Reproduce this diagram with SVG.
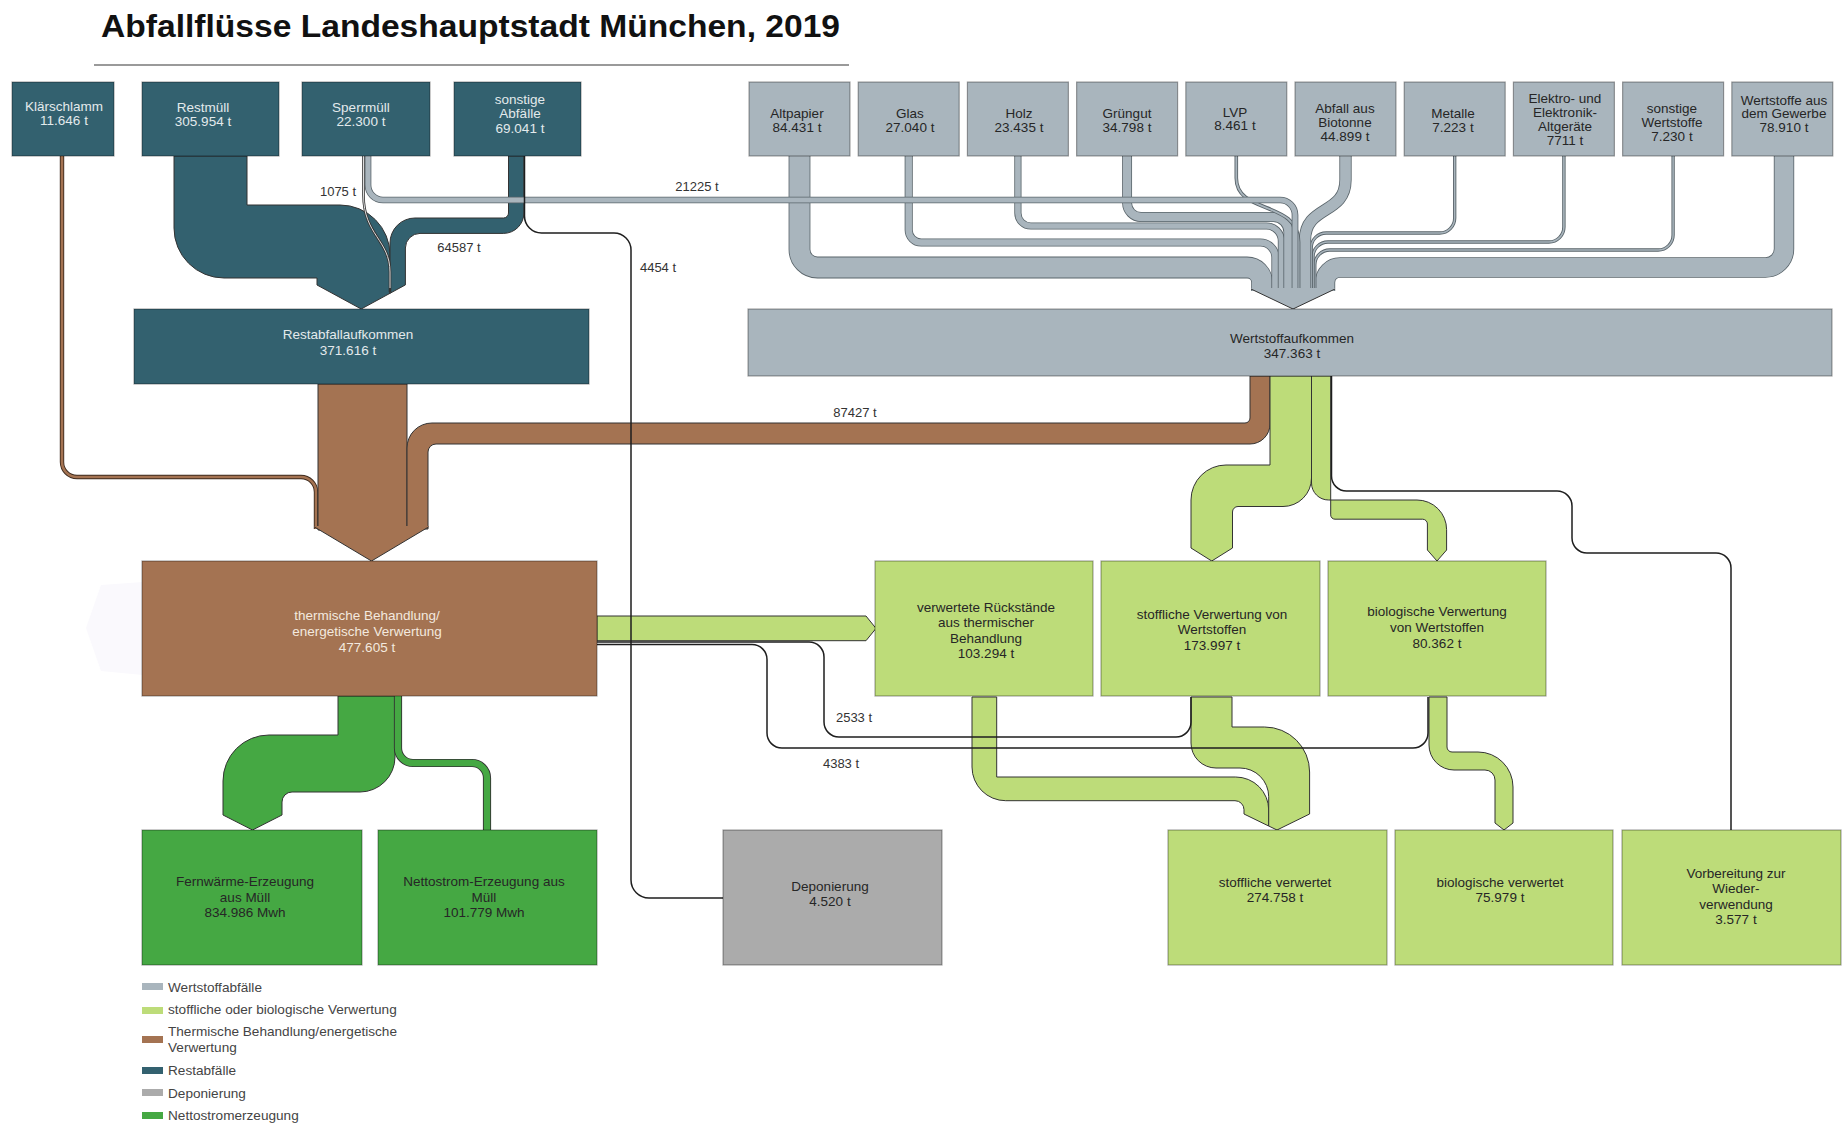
<svg xmlns="http://www.w3.org/2000/svg" width="1843" height="1124" viewBox="0 0 1843 1124">
<style>
.t{font-family:"Liberation Sans",Arial,sans-serif;font-size:13.5px;text-anchor:middle}
.tl{fill:#e3eaec}
.tb{fill:#f3e9df}
.td{fill:#262626}
.lab{font-family:"Liberation Sans",Arial,sans-serif;font-size:13px;fill:#333;text-anchor:middle}
.leg{font-family:"Liberation Sans",Arial,sans-serif;font-size:13.6px;fill:#444}
.bx{stroke:#000;stroke-opacity:.35;stroke-width:1.2}
.teal{fill:#33616f}.gray{fill:#a9b5bd}.brown{fill:#a47352}.lg{fill:#bddc79}.dg{fill:#45a843}.dep{fill:#ababab}
.fo{stroke:#333;stroke-width:1;stroke-linejoin:round}
.go{fill:none;stroke:#59646a}
.gf{fill:none;stroke:#a9b5bd}
.ln{fill:none;stroke:#1e1e1e;stroke-width:1.5}
.edge{fill:none;stroke:#333;stroke-width:1}
</style>
<defs>
<path id="p-sperr" d="M368,156 V185 A15 15 0 0 0 383,200 H1280 A15 15 0 0 1 1295,215 V291"/>
<path id="p-alt" d="M799.5,156 V249.5 A18 18 0 0 0 817.5,267.5 H1247.1 A15 15 0 0 1 1262.1,282.5 V291"/>
<path id="p-glas" d="M908.7,156 V230 A12.5 12.5 0 0 0 921.2,242.5 H1260.4 A15 15 0 0 1 1275.4,257.5 V291"/>
<path id="p-holz" d="M1017.9,156 V213 A13 13 0 0 0 1030.9,226 H1266.4 A15 15 0 0 1 1281.4,241 V291"/>
<path id="p-gruen" d="M1127.1,156 V203 A14 14 0 0 0 1141.1,217 H1273.35 A15 15 0 0 1 1288.35,232 V291"/>
<path id="p-lvp" d="M1236.3,156 V178 C1236.3,215 1298.6,200 1298.6,242 V291"/>
<path id="p-bio" d="M1345.5,156 V180 C1345.5,215 1305,205 1305,240 V291"/>
<path id="p-met" d="M1454.7,156 V218 A15 15 0 0 1 1439.7,233 H1326.2 A15 15 0 0 0 1311.2,248 V291"/>
<path id="p-elek" d="M1563.9,156 V227 A15 15 0 0 1 1548.9,242 H1328 A15 15 0 0 0 1313,257 V291"/>
<path id="p-sw" d="M1673.1,156 V235 A15 15 0 0 1 1658.1,250 H1329.8 A15 15 0 0 0 1314.8,265 V291"/>
<path id="p-gew" d="M1784,156 V249 A18.5 18.5 0 0 1 1765.5,267.5 H1340 A15 15 0 0 0 1325,282.5 V291"/>
</defs>
<rect width="1843" height="1124" fill="#fff"/>

<g id="title">
<text x="101" y="37" textLength="739" lengthAdjust="spacingAndGlyphs" style="font-family:'Liberation Sans',Arial,sans-serif;font-size:32px;font-weight:bold;fill:#111">Abfallflüsse Landeshauptstadt München, 2019</text>
<line x1="94" y1="65" x2="849" y2="65" stroke="#9a9a9a" stroke-width="2"/>
</g>

<polygon points="143,582 101,585 86,628 101,671 143,675" fill="#faf9fd"/>

<g id="connectors">
<!-- Restabfall inflows -->
<path class="teal fo" d="M174,156 V228 A50 50 0 0 0 224,278 H317 V285 L361.2,309 L390,293.3 V255 A50 50 0 0 0 340,205 H247 V156 Z"/>
<path class="teal fo" d="M508.5,156 V213 A5 5 0 0 1 503.5,218 H415 A25 25 0 0 0 390,243 V293.3 L405.4,284.9 V248 A14.6 14.6 0 0 1 420,233.4 H503.5 A20.4 20.4 0 0 0 523.9,213 V156 Z"/>
<path d="M363.5,156 V195 C363.5,235 390,240 390,272 V292" fill="none" stroke="#333" stroke-width="2.6"/>
<path d="M363.5,156 V195 C363.5,235 390,240 390,272 V288" fill="none" stroke="#f2f2f2" stroke-width="0.9"/>

<!-- Wertstoff inflows -->
<use href="#p-alt" class="go" stroke-width="21.8"/><use href="#p-alt" class="gf" stroke-width="20.2"/>
<use href="#p-glas" class="go" stroke-width="8.1"/><use href="#p-glas" class="gf" stroke-width="6.5"/>
<use href="#p-holz" class="go" stroke-width="7.2"/><use href="#p-holz" class="gf" stroke-width="5.6"/>
<use href="#p-gruen" class="go" stroke-width="9.9"/><use href="#p-gruen" class="gf" stroke-width="8.3"/>
<use href="#p-gew" class="go" stroke-width="20.4"/><use href="#p-gew" class="gf" stroke-width="18.8"/>
<use href="#p-sw" class="go" stroke-width="3.3"/><use href="#p-sw" class="gf" stroke-width="1.5"/>
<use href="#p-elek" class="go" stroke-width="3.4"/><use href="#p-elek" class="gf" stroke-width="1.6"/>
<use href="#p-met" class="go" stroke-width="3.3"/><use href="#p-met" class="gf" stroke-width="1.5"/>
<use href="#p-bio" class="go" stroke-width="12.3"/><use href="#p-bio" class="gf" stroke-width="10.7"/>
<use href="#p-lvp" class="go" stroke-width="3.6"/><use href="#p-lvp" class="gf" stroke-width="1.8"/>
<use href="#p-sperr" class="go" stroke-width="6.7"/><use href="#p-sperr" class="gf" stroke-width="5.1"/>
<path class="gray" d="M1251,288 H1335 V289 L1293,309 L1251,289 Z"/>
<polyline class="edge" points="1251,289 1293,309 1335,289"/>

<!-- thermal inflows -->
<path d="M62,156 V462 A15 15 0 0 0 77,477 H301 A15 15 0 0 1 316,492 V529" fill="none" stroke="#3e2b1f" stroke-width="4.4"/>
<path d="M62,156 V462 A15 15 0 0 0 77,477 H301 A15 15 0 0 1 316,492 V529" fill="none" stroke="#a47352" stroke-width="2.6"/>
<rect class="brown fo" x="318" y="384" width="89" height="146"/>
<path class="brown fo" d="M1250,376 V418 A5 5 0 0 1 1245,423 H432 A25 25 0 0 0 407,448 V529 H428 V452 A8 8 0 0 1 436,444 H1250 A20 20 0 0 0 1270,424 V376 Z"/>
<path class="brown" d="M314.5,526 H428.5 V527 L371.5,561 L314.5,527 Z"/>
<polyline class="edge" points="314.5,527 371.5,561 428.5,527"/>

<!-- green flows from Wertstoffaufkommen -->
<path class="lg fo" d="M1270,376 V465 H1226 A35 35 0 0 0 1191,500 V548 L1211.75,561 L1232.5,548 V512 A5.5 5.5 0 0 1 1238,506.5 H1283 A28.5 28.5 0 0 0 1311.5,478 V376 Z"/>
<path class="lg fo" d="M1311.5,376 V483 A17 17 0 0 0 1328.5,500 H1417 A29.6 29.6 0 0 1 1446.6,529.6 V550 L1437,561 L1427.4,550 V524 A4.8 4.8 0 0 0 1422.6,519.2 H1335 A4.3 4.3 0 0 1 1330.7,514.9 V376 Z"/>

<!-- thermal to residues -->
<path class="lg fo" d="M597,616 H866 L876,628.4 L866,640.7 H597 Z"/>

<!-- green outflows -->
<path class="lg fo" d="M972,697 V767 A33.7 33.7 0 0 0 1005.7,800.7 H1235 A9 9 0 0 1 1244,809.7 V814 L1268.7,826 V810 A33 33 0 0 0 1235.7,777 H996.7 V697 Z"/>
<path class="lg fo" d="M1191,697 V743 A25 25 0 0 0 1216,768 H1240 A28.7 28.7 0 0 1 1268.7,796.7 V826 L1277,830 L1309.6,814 V772 A45 45 0 0 0 1264.6,727 H1232 V697 Z"/>
<path class="lg fo" d="M1429,697 V745 A25 25 0 0 0 1454,770 H1485 A10 10 0 0 1 1495,780 V823 L1504,830 L1513,823 V787 A35 35 0 0 0 1478,752 H1452 A5 5 0 0 1 1447,747 V697 Z"/>

<!-- energy outflows -->
<path class="dg fo" d="M338,696 V735 H269 A46 46 0 0 0 223,781 V815 L252.5,830 L282,815 V802 A10 10 0 0 1 292,792 H360 A35 35 0 0 0 395,757 V696 Z"/>
<path d="M398,696 V748 A15 15 0 0 0 413,763 H472 A15 15 0 0 1 487,778 V830" fill="none" stroke="#333" stroke-width="8.2"/>
<path d="M398,696 V748 A15 15 0 0 0 413,763 H472 A15 15 0 0 1 487,778 V830" fill="none" stroke="#45a843" stroke-width="6.4"/>

<!-- thin lines -->
<path class="ln" d="M597,642 H809 A15 15 0 0 1 824,657 V722 A15 15 0 0 0 839,737 H1176 A15 15 0 0 0 1191,722 V697"/>
<path class="ln" d="M597,644.5 H752 A15 15 0 0 1 767,659.5 V733 A15 15 0 0 0 782,748 H1413 A15 15 0 0 0 1428,733 V697"/>
<path class="ln" d="M524.5,156 V216 A17 17 0 0 0 541.5,233 H614 A17 17 0 0 1 631,250 V880 A18 18 0 0 0 649,898 H723"/>
<path class="ln" d="M1331.5,376 V476 A15 15 0 0 0 1346.5,491 H1557 A15 15 0 0 1 1572,506 V538 A15 15 0 0 0 1587,553 H1716 A15 15 0 0 1 1731,568 V830"/>

<g id="flow-labels">
<text class="lab" x="338" y="195.5">1075 t</text>
<text class="lab" x="697" y="190.5">21225 t</text>
<text class="lab" x="459" y="251.5">64587 t</text>
<text class="lab" x="658" y="271.5">4454 t</text>
<text class="lab" x="855" y="416.5">87427 t</text>
<text class="lab" x="854" y="721.5">2533 t</text>
<text class="lab" x="841" y="767.5">4383 t</text>
</g>
</g>

<g id="n-klaerschlamm"><rect class="teal bx" x="12" y="82" width="102" height="74"/>
<text class="t tl" x="64" y="110.5">Klärschlamm</text><text class="t tl" x="64" y="124.5">11.646 t</text></g>
<g id="n-restmuell"><rect class="teal bx" x="142" y="82" width="137" height="74"/>
<text class="t tl" x="203" y="111.5">Restmüll</text><text class="t tl" x="203" y="125.5">305.954 t</text></g>
<g id="n-sperrmuell"><rect class="teal bx" x="302" y="82" width="128" height="74"/>
<text class="t tl" x="361" y="111.5">Sperrmüll</text><text class="t tl" x="361" y="125.5">22.300 t</text></g>
<g id="n-sonstige-abfaelle"><rect class="teal bx" x="454" y="82" width="127" height="74"/>
<text class="t tl" x="520" y="103.5">sonstige</text><text class="t tl" x="520" y="118">Abfälle</text><text class="t tl" x="520" y="132.5">69.041 t</text></g>

<g id="n-altpapier"><rect class="gray bx" x="749" y="82" width="101" height="74"/>
<text class="t td" x="797" y="117.5">Altpapier</text><text class="t td" x="797" y="131.5">84.431 t</text></g>
<g id="n-glas"><rect class="gray bx" x="858.2" y="82" width="101" height="74"/>
<text class="t td" x="910" y="117.5">Glas</text><text class="t td" x="910" y="131.5">27.040 t</text></g>
<g id="n-holz"><rect class="gray bx" x="967.4" y="82" width="101" height="74"/>
<text class="t td" x="1019" y="117.5">Holz</text><text class="t td" x="1019" y="131.5">23.435 t</text></g>
<g id="n-gruengut"><rect class="gray bx" x="1076.6" y="82" width="101" height="74"/>
<text class="t td" x="1127" y="117.5">Grüngut</text><text class="t td" x="1127" y="131.5">34.798 t</text></g>
<g id="n-lvp"><rect class="gray bx" x="1185.8" y="82" width="101" height="74"/>
<text class="t td" x="1235" y="116.5">LVP</text><text class="t td" x="1235" y="130">8.461 t</text></g>
<g id="n-biotonne"><rect class="gray bx" x="1295" y="82" width="101" height="74"/>
<text class="t td" x="1345" y="112.5">Abfall aus</text><text class="t td" x="1345" y="126.5">Biotonne</text><text class="t td" x="1345" y="140.5">44.899 t</text></g>
<g id="n-metalle"><rect class="gray bx" x="1404.2" y="82" width="101" height="74"/>
<text class="t td" x="1453" y="117.5">Metalle</text><text class="t td" x="1453" y="131.5">7.223 t</text></g>
<g id="n-elektro"><rect class="gray bx" x="1513.4" y="82" width="101" height="74"/>
<text class="t td" x="1565" y="102.5">Elektro- und</text><text class="t td" x="1565" y="116.5">Elektronik-</text><text class="t td" x="1565" y="130.5">Altgeräte</text><text class="t td" x="1565" y="144.5">7711 t</text></g>
<g id="n-sonstige-wertstoffe"><rect class="gray bx" x="1622.6" y="82" width="101" height="74"/>
<text class="t td" x="1672" y="112.5">sonstige</text><text class="t td" x="1672" y="126.5">Wertstoffe</text><text class="t td" x="1672" y="140.5">7.230 t</text></g>
<g id="n-gewerbe"><rect class="gray bx" x="1731.8" y="82" width="101" height="74"/>
<text class="t td" x="1784" y="104.5">Wertstoffe aus</text><text class="t td" x="1784" y="118">dem Gewerbe</text><text class="t td" x="1784" y="131.5">78.910 t</text></g>

<g id="n-restabfallaufkommen"><rect class="teal bx" x="134" y="309" width="455" height="75"/>
<text class="t tl" x="348" y="338.5">Restabfallaufkommen</text><text class="t tl" x="348" y="354.5">371.616 t</text></g>
<g id="n-wertstoffaufkommen"><rect class="gray bx" x="748" y="309" width="1084" height="67"/>
<text class="t td" x="1292" y="342.5">Wertstoffaufkommen</text><text class="t td" x="1292" y="357.5">347.363 t</text></g>

<g id="n-thermisch"><rect class="brown bx" x="142" y="561" width="455" height="135"/>
<text class="t tb" x="367" y="619.5">thermische Behandlung/</text><text class="t tb" x="367" y="635.5">energetische Verwertung</text><text class="t tb" x="367" y="651.5">477.605 t</text></g>
<g id="n-rueckstaende"><rect class="lg bx" x="875" y="561" width="218" height="135"/>
<text class="t td" x="986" y="611.5">verwertete Rückstände</text><text class="t td" x="986" y="627">aus thermischer</text><text class="t td" x="986" y="642.5">Behandlung</text><text class="t td" x="986" y="658">103.294 t</text></g>
<g id="n-stoffliche-verwertung"><rect class="lg bx" x="1101" y="561" width="219" height="135"/>
<text class="t td" x="1212" y="618.5">stoffliche Verwertung von</text><text class="t td" x="1212" y="633.5">Wertstoffen</text><text class="t td" x="1212" y="649.5">173.997 t</text></g>
<g id="n-biologische-verwertung"><rect class="lg bx" x="1328" y="561" width="218" height="135"/>
<text class="t td" x="1437" y="615.5">biologische Verwertung</text><text class="t td" x="1437" y="631.5">von Wertstoffen</text><text class="t td" x="1437" y="647.5">80.362 t</text></g>

<g id="n-fernwaerme"><rect class="dg bx" x="142" y="830" width="220" height="135"/>
<text class="t td" x="245" y="885.5">Fernwärme-Erzeugung</text><text class="t td" x="245" y="901.5">aus Müll</text><text class="t td" x="245" y="916.5">834.986 Mwh</text></g>
<g id="n-nettostrom"><rect class="dg bx" x="378" y="830" width="219" height="135"/>
<text class="t td" x="484" y="885.5">Nettostrom-Erzeugung aus</text><text class="t td" x="484" y="901.5">Müll</text><text class="t td" x="484" y="916.5">101.779 Mwh</text></g>
<g id="n-deponierung"><rect class="dep bx" x="723" y="830" width="219" height="135"/>
<text class="t td" x="830" y="890.5">Deponierung</text><text class="t td" x="830" y="905.5">4.520 t</text></g>
<g id="n-stoffliche-verwertet"><rect class="lg bx" x="1168" y="830" width="219" height="135"/>
<text class="t td" x="1275" y="886.5">stoffliche verwertet</text><text class="t td" x="1275" y="901.5">274.758 t</text></g>
<g id="n-biologische-verwertet"><rect class="lg bx" x="1395" y="830" width="218" height="135"/>
<text class="t td" x="1500" y="886.5">biologische verwertet</text><text class="t td" x="1500" y="901.5">75.979 t</text></g>
<g id="n-vorbereitung"><rect class="lg bx" x="1622" y="830" width="219" height="135"/>
<text class="t td" x="1736" y="877.5">Vorbereitung zur</text><text class="t td" x="1736" y="892.5">Wieder-</text><text class="t td" x="1736" y="908.5">verwendung</text><text class="t td" x="1736" y="923.5">3.577 t</text></g>

<g id="legend">
<rect class="gray" x="142" y="983" width="21" height="7"/><text class="leg" x="168" y="991.5">Wertstoffabfälle</text>
<rect class="lg" x="142" y="1007" width="21" height="7"/><text class="leg" x="168" y="1013.5">stoffliche oder biologische Verwertung</text>
<rect class="brown" x="142" y="1036" width="21" height="7"/><text class="leg" x="168" y="1035.5">Thermische Behandlung/energetische</text><text class="leg" x="168" y="1051.5">Verwertung</text>
<rect class="teal" x="142" y="1067" width="21" height="7"/><text class="leg" x="168" y="1074.5">Restabfälle</text>
<rect class="dep" x="142" y="1089" width="21" height="7"/><text class="leg" x="168" y="1097.5">Deponierung</text>
<rect class="dg" x="142" y="1112" width="21" height="7"/><text class="leg" x="168" y="1119.5">Nettostromerzeugung</text>
</g>
</svg>
